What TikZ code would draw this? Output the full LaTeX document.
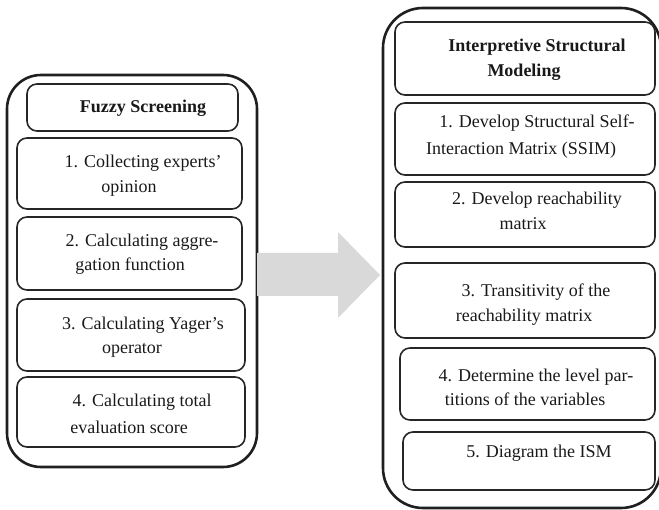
\documentclass[tikz,border=0pt]{standalone}
\usepackage{fontspec}
\setmainfont{Liberation Serif}
\begin{document}
\begin{tikzpicture}[x=1pt,y=-1pt,
  outerbox/.style={draw=black!88,line width=2.6pt,rounded corners=34pt,inner sep=0pt,outer sep=0pt},
  stepbox/.style={draw=black!85,line width=1.6pt,rounded corners=10pt,inner sep=0pt,outer sep=0pt},
  txt/.style={inner sep=0pt,font=\fontsize{18}{22}\selectfont,text=black!90},
  btxt/.style={txt,font=\fontsize{18}{22}\selectfont\bfseries},
  flow/.style={fill=black!15,draw=none}]
\useasboundingbox (0,0) rectangle (659,510);

% Fuzzy screening column
\node[outerbox,minimum width=250pt,minimum height=392pt] (L) at (132,271) {};
\node[stepbox,minimum width=211pt,minimum height=47pt] (lt) at (132.5,107.5) {};
\node[stepbox,minimum width=225pt,minimum height=71pt] (l1) at (129.5,173.5) {};
\node[stepbox,minimum width=225pt,minimum height=73pt] (l2) at (129.5,253.5) {};
\node[stepbox,minimum width=228pt,minimum height=72pt] (l3) at (131,335) {};
\node[stepbox,minimum width=228pt,minimum height=70pt] (l4) at (131,412) {};

\node[btxt] (ltA) at (143,108) {Fuzzy Screening};
\node[txt] (l1A) at (143,163) {1. Collecting experts’};
\node[txt] (l1B) at (129,188) {opinion};
\node[txt] (l2A) at (142,242) {2. Calculating aggre-};
\node[txt] (l2B) at (130,266) {gation function};
\node[txt] (l3A) at (143,325) {3. Calculating Yager’s};
\node[txt] (l3B) at (132,350) {operator};
\node[txt] (l4A) at (142,402) {4. Calculating total};
\node[txt] (l4B) at (129,427) {evaluation score};

% ISM column
\node[outerbox,rounded corners=40pt,minimum width=278pt,minimum height=500pt] (R) at (522,258) {};
\node[stepbox,minimum width=260pt,minimum height=73pt] (rt) at (525,58.5) {};
\node[stepbox,minimum width=260pt,minimum height=72pt] (r1) at (525,139) {};
\node[stepbox,minimum width=260pt,minimum height=65pt] (r2) at (525,214.5) {};
\node[stepbox,minimum width=260pt,minimum height=75pt] (r3) at (525,300.5) {};
\node[stepbox,minimum width=255pt,minimum height=72pt] (r4) at (527.5,384) {};
\node[stepbox,minimum width=252pt,minimum height=58pt] (r5) at (529,461) {};

\node[btxt] (rtA) at (537,47) {Interpretive Structural};
\node[btxt] (rtB) at (524,72) {Modeling};
\node[txt] (r1A) at (537,123) {1. Develop Structural Self-};
\node[txt] (r1B) at (521,150) {Interaction Matrix (SSIM)};
\node[txt] (r2A) at (537,200) {2. Develop reachability};
\node[txt] (r2B) at (523,224) {matrix};
\node[txt] (r3A) at (536,292) {3. Transitivity of the};
\node[txt] (r3B) at (524,317) {reachability matrix};
\node[txt] (r4A) at (536,377) {4. Determine the level par-};
\node[txt] (r4B) at (525,399) {titions of the variables};
\node[txt] (r5A) at (539,453) {5. Diagram the ISM};

% block arrow between the two columns
\coordinate (aS) at (L.east |- 0,275);
\coordinate (aT) at (R.west |- 0,275);
\fill[flow] (257,253) -- (338,253) -- (338,232) -- (380,275) -- (338,318)
  -- (338,296) -- (257,296) -- cycle;
\end{tikzpicture}
\end{document}
